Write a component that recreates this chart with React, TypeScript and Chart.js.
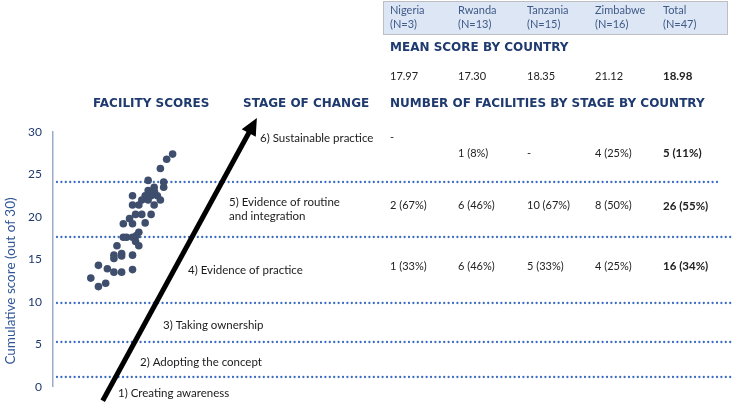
import React, { useEffect, useRef } from 'react';
import { Chart, registerables } from 'chart.js';
Chart.register(...registerables);

// ---- data ----
const SCORES = [27.4, 26.8, 25.7, 24.1, 23.5, 24.3, 23.5, 23.1, 22.5, 22.5, 22.5, 22.0, 22.0, 21.4, 22.0, 21.4, 22.5, 21.4, 20.3, 20.3, 20.3, 19.8, 19.2, 19.2, 19.3, 17.6, 17.6, 17.6, 18.2, 17.1, 16.6, 16.6, 15.5, 15.7, 15.1, 15.5, 15.4, 14.3, 13.9, 13.5, 13.5, 13.8, 12.8, 11.8, 12.2, 17.8, 23.0];
const JITTER = [17.69, 16.81, 15.88, 16.37, 16.37, 14.07, 14.96, 14.07, 13.63, 14.51, 15.44, 15.88, 14.07, 14.96, 13.13, 12.69, 11.76, 11.76, 13.13, 12.21, 14.51, 11.32, 11.76, 10.4, 13.63, 10.4, 10.88, 11.76, 12.69, 12.21, 12.69, 9.46, 9.01, 10.15, 9.01, 11.76, 10.15, 6.72, 8.04, 9.01, 10.15, 11.76, 5.59, 6.72, 7.79, 12.35, 15.0];
const Y_TICKS = [0, 5, 10, 15, 20, 25, 30];
const STAGE_BOUNDS = [1.1, 5.3, 9.9, 17.6, 24.1];
const STAGE_LABELS = ['1) Creating awareness', '2) Adopting the concept', '3) Taking ownership', '4) Evidence of practice', '5) Evidence of routine\nand integration', '6) Sustainable practice'];
const STAGE_LABEL_Y = [-0.8, 2.9, 7.3, 13.7, 20.85, 29.3];
const COUNTRIES = ['Nigeria', 'Rwanda', 'Tanzania', 'Zimbabwe', 'Total'];
const COUNTRY_N = ['(N=3)', '(N=13)', '(N=15)', '(N=16)', '(N=47)'];
const MEAN_SCORES = ['17.97', '17.30', '18.35', '21.12', '18.98'];
const STAGE6_COUNTS = ['-', '1 (8%)', '-', '4 (25%)', '5 (11%)'];
const STAGE5_COUNTS = ['2 (67%)', '6 (46%)', '10 (67%)', '8 (50%)', '26 (55%)'];
const STAGE4_COUNTS = ['1 (33%)', '6 (46%)', '5 (33%)', '4 (25%)', '16 (34%)'];
const STAGE_ROW_Y = [27.5, 21.3, 14.2];
const ARROW_X = [7.35, 30.15];
const ARROW_Y = [-1.64, 31.64];

// ---- layout ----
const COL_X = [390, 458, 527, 595, 663];
const STAGE_LABEL_X = [118, 140, 163, 188, 229, 260];
const LINE_END_X = [733, 733, 733, 733, 718];
const NAVY = '#1f3a6e';
const DOT_BLUE = '#3b6cc4';
const BODY = "'Lato', sans-serif";

const overlay = {
  id: 'overlay',
  beforeDatasetsDraw(chart: any) {
    const ctx = chart.ctx;
    const ys = chart.scales.y;
    ctx.save();
    ctx.strokeStyle = DOT_BLUE;
    ctx.lineWidth = 2.3;
    ctx.lineCap = 'round';
    ctx.setLineDash([0, 4.4]);
    STAGE_BOUNDS.forEach((v, i) => {
      const y = Math.round(ys.getPixelForValue(v));
      ctx.beginPath();
      ctx.moveTo(57, y);
      ctx.lineTo(LINE_END_X[i], y);
      ctx.stroke();
    });
    ctx.restore();
  },
  afterDraw(chart: any) {
    const ctx = chart.ctx;
    const ys = chart.scales.y;
    const xs = chart.scales.x;
    ctx.save();

    // arrow
    const x0 = xs.getPixelForValue(ARROW_X[0]);
    const y0 = ys.getPixelForValue(ARROW_Y[0]);
    const x1 = xs.getPixelForValue(ARROW_X[1]);
    const y1 = ys.getPixelForValue(ARROW_Y[1]);
    const ang = Math.atan2(y1 - y0, x1 - x0);
    const headLen = 17;
    const headW = 8;
    const bx = x1 - headLen * Math.cos(ang);
    const by = y1 - headLen * Math.sin(ang);
    ctx.strokeStyle = '#000';
    ctx.lineWidth = 5;
    ctx.lineCap = 'butt';
    ctx.beginPath();
    ctx.moveTo(x0, y0);
    ctx.lineTo(bx + 2 * Math.cos(ang), by + 2 * Math.sin(ang));
    ctx.stroke();
    ctx.fillStyle = '#000';
    ctx.beginPath();
    ctx.moveTo(x1, y1);
    ctx.lineTo(bx + headW * Math.sin(ang), by - headW * Math.cos(ang));
    ctx.lineTo(bx - headW * Math.sin(ang), by + headW * Math.cos(ang));
    ctx.closePath();
    ctx.fill();

    // header box
    ctx.fillStyle = '#dce6f4';
    ctx.fillRect(383.5, 1.5, 344, 33);
    ctx.setLineDash([1, 1]);
    ctx.strokeStyle = '#8a8a8a';
    ctx.lineWidth = 1;
    ctx.strokeRect(383.5, 1.5, 344, 33);
    ctx.setLineDash([]);

    ctx.textBaseline = 'middle';
    ctx.textAlign = 'left';
    ctx.font = `11px ${BODY}`;
    ctx.fillStyle = '#3f5a88';
    COUNTRIES.forEach((c, i) => {
      ctx.fillText(c, COL_X[i], 10);
      ctx.fillText(COUNTRY_N[i], COL_X[i], 24);
    });

    // headings
    ctx.fillStyle = NAVY;
    ctx.font = "bold 12px 'DejaVu Sans', sans-serif";
    ctx.fillText('MEAN SCORE BY COUNTRY', 390, 48);
    ctx.fillText('FACILITY SCORES', 93, 104);
    ctx.fillText('STAGE OF CHANGE', 243, 104);
    ctx.fillText('NUMBER OF FACILITIES BY STAGE BY COUNTRY', 390, 104);

    // mean scores
    ctx.fillStyle = '#222';
    MEAN_SCORES.forEach((m, i) => {
      ctx.font = i === 4 ? `bold 11.5px ${BODY}` : `11px ${BODY}`;
      ctx.fillText(m, COL_X[i], 76);
    });

    // stage rows
    const rows = [STAGE6_COUNTS, STAGE5_COUNTS, STAGE4_COUNTS];
    rows.forEach((row, r) => {
      row.forEach((t, i) => {
        ctx.font = i === 4 ? `bold 11.5px ${BODY}` : `11px ${BODY}`;
        let yv = STAGE_ROW_Y[r];
        if (r === 0 && i === 0) yv = 29.4;
        ctx.fillText(t, COL_X[i], ys.getPixelForValue(yv));
      });
    });

    // stage labels
    ctx.fillStyle = '#1a1a1a';
    ctx.font = `11.5px ${BODY}`;
    STAGE_LABELS.forEach((lab, i) => {
      const lines = lab.split('\n');
      const yc = ys.getPixelForValue(STAGE_LABEL_Y[i]);
      lines.forEach((ln, k) => {
        ctx.fillText(ln, STAGE_LABEL_X[i], yc + (k - (lines.length - 1) / 2) * 14);
      });
    });

    // y axis title
    ctx.save();
    ctx.translate(11, 281);
    ctx.rotate(-Math.PI / 2);
    ctx.textAlign = 'center';
    ctx.fillStyle = '#2f5597';
    ctx.font = `13.5px ${BODY}`;
    ctx.fillText('Cumulative score (out of 30)', 0, 0);
    ctx.restore();

    ctx.restore();
  },
};

export default function App() {
  const ref = useRef<HTMLCanvasElement | null>(null);
  useEffect(() => {
    if (!ref.current) return;
    const points = SCORES.map((s, i) => ({ x: JITTER[i], y: s }));
    const chart = new Chart(ref.current, {
      type: 'scatter',
      data: {
        datasets: [
          {
            data: points,
            pointRadius: 3.8,
            pointHoverRadius: 3.8,
            backgroundColor: '#3e4e6c',
            borderWidth: 0,
          },
        ],
      },
      options: {
        animation: false,
        responsive: false,
        events: [],
        layout: { padding: { top: 132, bottom: 15, left: 0, right: 0 } },
        plugins: { legend: { display: false }, tooltip: { enabled: false } },
        scales: {
          x: { type: 'linear', display: false, min: 0, max: 100 },
          y: {
            min: 0,
            max: 30,
            afterFit: (s: any) => { s.width = 53; },
            afterBuildTicks: (s: any) => { s.ticks = Y_TICKS.map((v) => ({ value: v })); },
            ticks: { padding: 11, color: NAVY, font: { family: 'Lato', size: 12 } },
            grid: { display: false, drawTicks: false },
            border: { display: true, color: '#9aabc8', width: 1.5 },
          },
        },
      },
      plugins: [overlay],
    });
    return () => chart.destroy();
  }, []);
  return (
    <div style={{ position: 'absolute', left: 0, top: 0, width: 733, height: 405, background: '#fff' }}>
      <canvas ref={ref} width={733} height={405} />
    </div>
  );
}
